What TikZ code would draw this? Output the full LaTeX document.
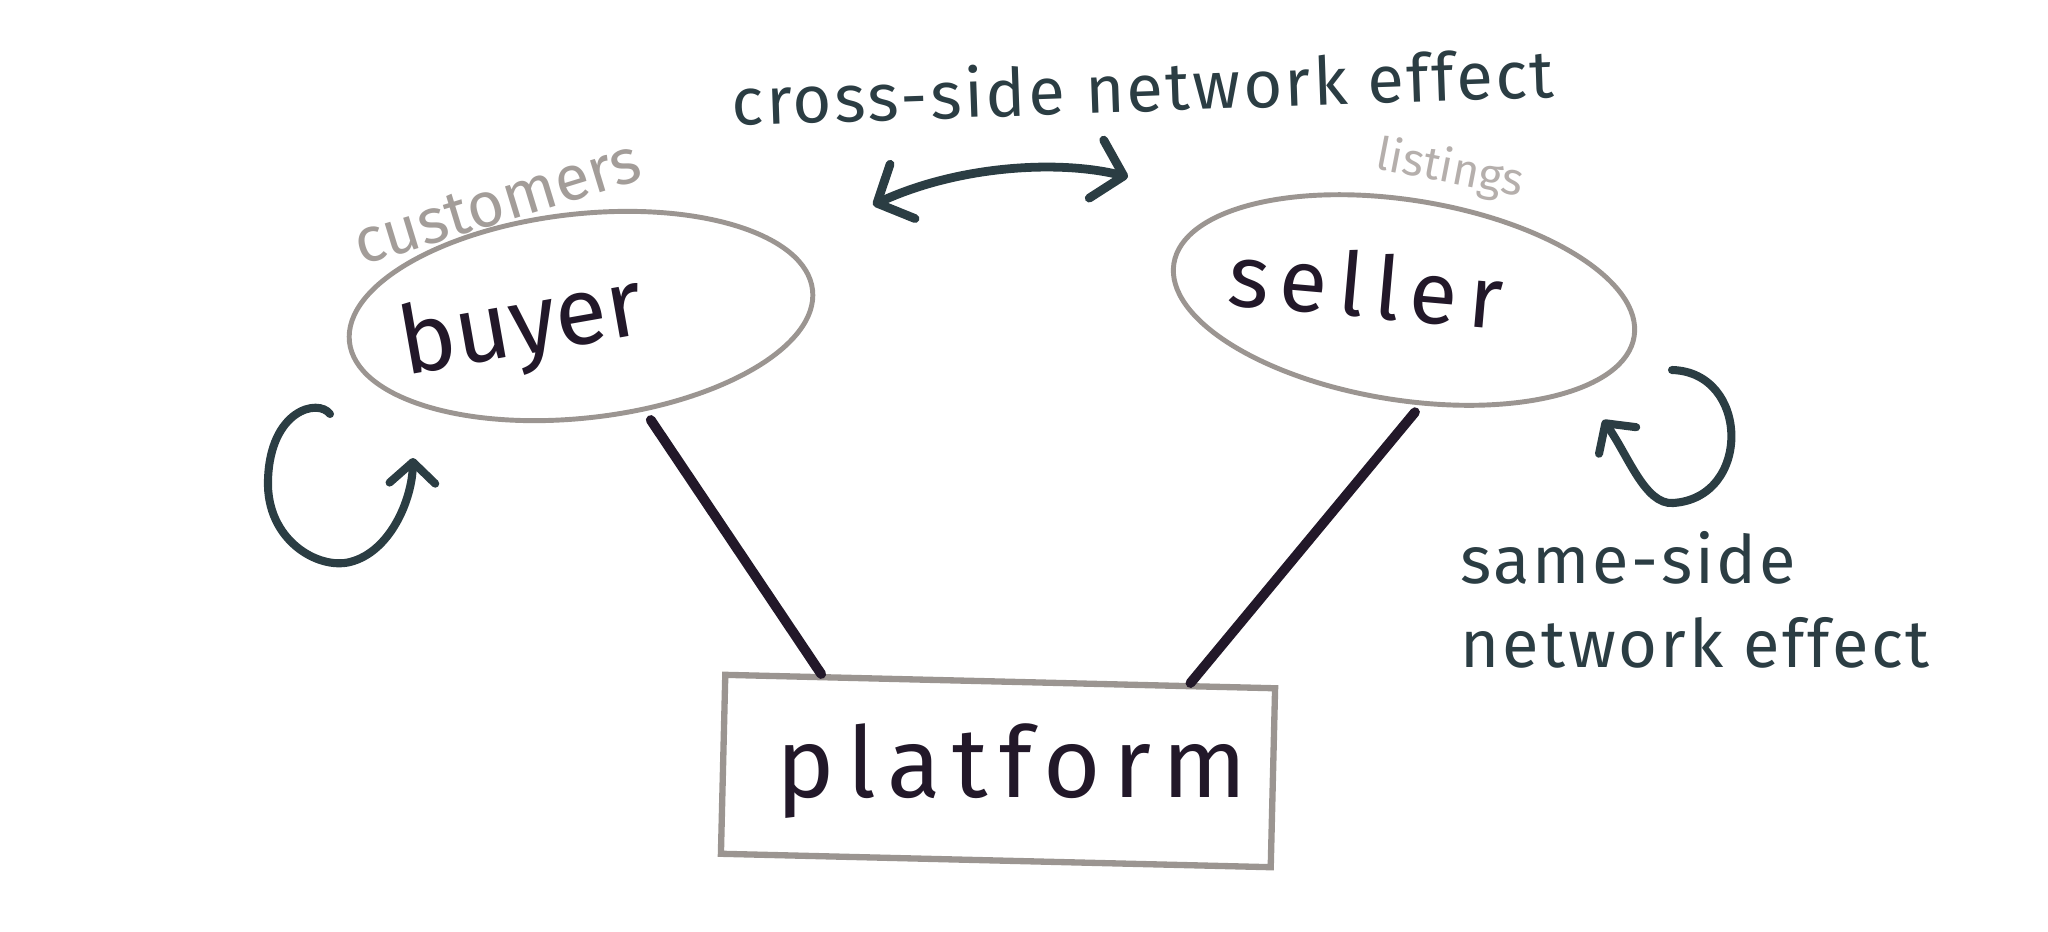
\documentclass[tikz,border=0pt]{standalone}
\usepackage{fontspec}
\setmainfont{Fira Sans}
\newfontfamily\handfont{Fira Sans}
\newfontfamily\handmid[LetterSpace=4]{Fira Sans}
\newfontfamily\handwide[LetterSpace=12]{Fira Sans}
\usetikzlibrary{positioning, arrows.meta, shapes.geometric, calc}
\usepackage{xcolor}
\definecolor{inkc}{HTML}{221829}
\definecolor{slatec}{HTML}{2B3D43}
\definecolor{rimc}{HTML}{9B9591}
\definecolor{tagc}{HTML}{A39D99}
\definecolor{faintc}{HTML}{B5AFAC}

\begin{document}
\begin{tikzpicture}[x=0.1mm, y=-0.1mm,
      party/.style={ellipse, draw=rimc, line width=1.4pt, inner sep=0pt,
                    minimum width=4.66cm, minimum height=2.04cm},
      word/.style={text=inkc, inner sep=0pt},
      note/.style={text=slatec, inner sep=0pt, align=left,
                   font=\handmid\fontsize{19}{24}\selectfont},
      tagtext/.style={inner sep=0pt, font=\handfont\fontsize{18}{20}\selectfont},
      stick/.style={inkc, line width=2.8pt, line cap=round},
      swing/.style={slatec, line width=2.5pt, line cap=round,
                    {Straight Barb[round, length=8pt, width=17pt]}-{Straight Barb[round, length=8pt, width=17pt]}},
      selfarr/.style={slatec, line width=2.3pt, line cap=round,
                      -{Straight Barb[round, length=6pt, width=13pt]}}]
    \useasboundingbox (0,0) rectangle (2048,931);
    \node[party, rotate=6.4] (buyer) at (581,316) {};
    \node[party, rotate=-9, minimum height=2.0cm] (seller) at (1404,300) {};
    \node[draw=rimc, line width=1.8pt, minimum width=5.5cm, minimum height=1.79cm,
          rotate=-1.4] (platform) at (998,771) {};

    \node[word, rotate=10, font=\handfont\fontsize{27}{30}\selectfont] (buyertext) at (522,329) {buyer};
    \node[word, rotate=-5, font=\handwide\fontsize{25}{28}\selectfont] (sellertext) at (1366,285) {seller};
    \node[word, font=\handwide\fontsize{28}{30}\selectfont] (platformtext) at (1012,771) {platform};
    \node[tagtext, text=tagc, rotate=17] (customers) at (497,203) {customers};
    \node[tagtext, text=faintc, rotate=-11, font=\handfont\fontsize{13}{15}\selectfont] (listings) at (1450,170) {listings};
    \node[note, rotate=2] (crosstext) at (1143,86) {cross-side network effect};
    \node[note, anchor=west] (sametext) at (1460,600) {same-side\\network effect};

    \coordinate (bfoot) at ($(platform.north west)!0.178!(platform.north east)$);
    \coordinate (sfoot) at ($(platform.north west)!0.842!(platform.north east)$);
    \coordinate (stop) at ($(seller.south)+(27,11)$);
    \draw[stick, shorten <=3pt] (buyer) -- (bfoot);
    \draw[stick] (stop) -- (sfoot);

    \coordinate (crossl) at (873,205);
    \coordinate (crossr) at (1128,177);
    \draw[swing] (crossl) .. controls (960,165) and (1060,160) .. (crossr);

    \coordinate (bloop) at (330,414);
    \coordinate (btip) at (413,458);
    \draw[selfarr] (bloop) .. controls (318,398) and (270,410) .. (268,480)
                   .. controls (266,540) and (318,570) .. (350,562)
                   .. controls (390,552) and (412,500) .. (btip);
    \coordinate (sloop) at (1672,370);
    \coordinate (stip) at (1603,420);
    \draw[selfarr] (sloop) .. controls (1750,372) and (1752,498) .. (1673,503)
                   .. controls (1645,505) and (1628,455) .. (stip);
  \end{tikzpicture}
\end{document}
